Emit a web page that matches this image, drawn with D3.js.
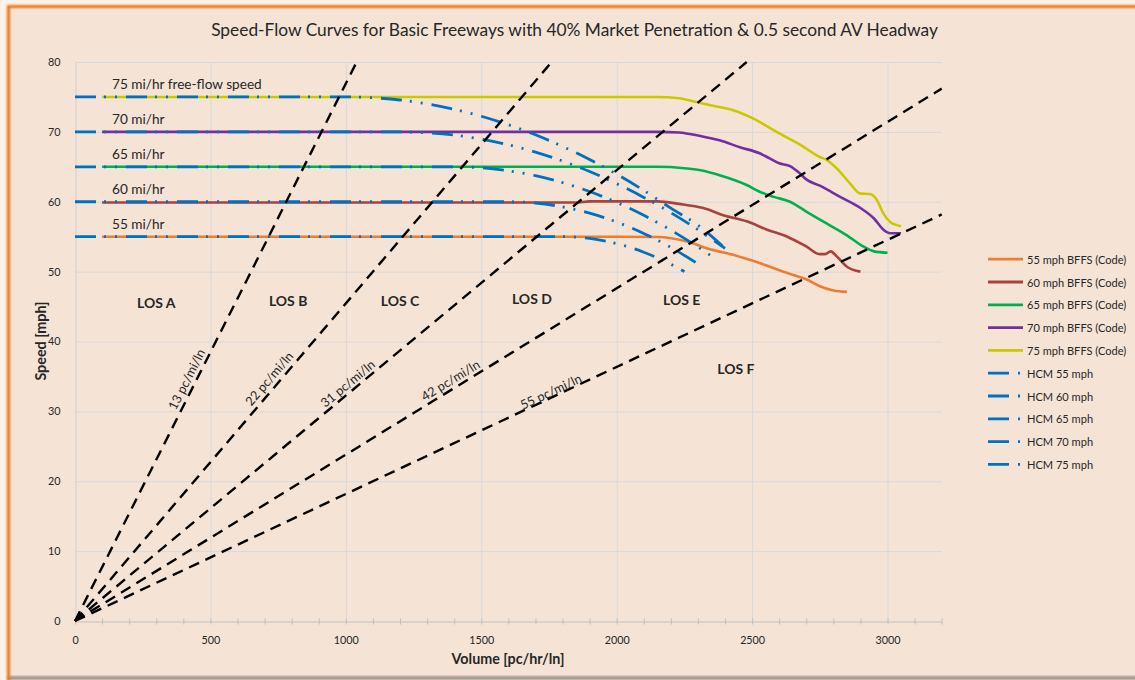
<!DOCTYPE html>
<html>
<head>
<meta charset="utf-8">
<script src="https://cdn.jsdelivr.net/npm/d3@7"></script>
<style>
  body { margin: 0; background: #fcf2ea; }
  svg { display: block; }
  text { font-family: Lato, "Open Sans", "DejaVu Sans", sans-serif; fill: #262626; }
</style>
</head>
<body>
<svg id="chart" width="1135" height="680"></svg>
<script>
// ---- Data: volume [pc/hr/ln], speed [mph] ----
const bffs55 = [[100,55],[2000,55],[2150,54.95],[2260,54.3],[2345,53.2],[2430,52.4],[2530,51.2],[2630,49.8],[2700,48.9],[2750,47.9],[2800,47.3],[2850,47.1]];
const bffs60 = [[100,59.9],[1850,59.9],[1900,60.05],[2150,60.05],[2230,59.7],[2320,59.1],[2400,58.0],[2480,57.2],[2555,56.0],[2630,55.0],[2700,53.6],[2750,52.5],[2770,52.5],[2790,52.9],[2812,52.2],[2850,50.7],[2900,50.0]];
const bffs65 = [[100,65],[2150,65],[2250,64.8],[2310,64.5],[2380,63.8],[2480,62.4],[2530,61.4],[2580,60.7],[2640,60.0],[2700,58.6],[2775,56.9],[2850,55.2],[2910,53.6],[2950,52.9],[3000,52.7]];
const bffs70 = [[100,70],[2150,70],[2230,69.9],[2310,69.4],[2380,68.8],[2455,67.8],[2530,66.9],[2565,66.2],[2600,65.5],[2640,65.1],[2675,64.1],[2700,63.2],[2750,62.3],[2825,60.7],[2900,59.1],[2950,57.6],[2985,56.0],[3010,55.5],[3050,55.5]];
const bffs75 = [[100,75],[2150,75],[2230,74.8],[2290,74.3],[2360,73.7],[2430,73.1],[2505,71.9],[2590,70.0],[2680,68.1],[2750,66.4],[2775,66.0],[2812,64.8],[2862,62.6],[2898,61.2],[2935,61.1],[2960,60.3],[2985,58.3],[3010,57.1],[3050,56.5]];

const hcm55 = [[0,55],[1800,55],[1900,54.75],[2000,54.01],[2100,52.78],[2200,51.05],[2250,50.0]];
const hcm60 = [[0,60],[1600,60],[1700,59.82],[1800,59.27],[1900,58.37],[2000,57.10],[2100,55.46],[2200,53.47],[2300,51.11]];
const hcm65 = [[0,65],[1400,65],[1500,64.86],[1600,64.43],[1700,63.73],[1800,62.73],[1900,61.46],[2000,59.90],[2100,58.06],[2200,55.94],[2300,53.53],[2350,52.22]];
const hcm70 = [[0,70],[1200,70],[1300,69.88],[1400,69.54],[1500,68.96],[1600,68.15],[1700,67.11],[1800,65.83],[1900,64.33],[2000,62.59],[2100,60.62],[2200,58.43],[2300,56.0],[2400,53.33]];
const hcm75 = [[0,75],[1000,75],[1100,74.89],[1200,74.56],[1300,74.01],[1400,73.23],[1500,72.24],[1600,71.02],[1700,69.58],[1800,67.92],[1900,66.04],[2000,63.94],[2100,61.62],[2200,59.08],[2300,56.65],[2400,53.33]];

const bffsNames = ["55 mph BFFS (Code)","60 mph BFFS (Code)","65 mph BFFS (Code)","70 mph BFFS (Code)","75 mph BFFS (Code)"];
const hcmNames = ["HCM 55 mph","HCM 60 mph","HCM 65 mph","HCM 70 mph","HCM 75 mph"];
const speedLabels = ["55 mi/hr","60 mi/hr","65 mi/hr","70 mi/hr","75 mi/hr free-flow speed"];
const freeFlowSpeeds = [55, 60, 65, 70, 75];
const densities = [13, 22, 31, 42, 55];            // pc/mi/ln boundaries
const losNames = ["LOS A","LOS B","LOS C","LOS D","LOS E","LOS F"];
const xTicks = [0, 500, 1000, 1500, 2000, 2500, 3000];
const yTicks = [0, 10, 20, 30, 40, 50, 60, 70, 80];

// ---- Styling / layout ----
const colors = ["#ed7d31", "#a8423e", "#00b050", "#7030a0", "#c9c900"];
const hcmColor = "#0070c0";
const hcmDash = "21,8,2,9,2,9";
const losPos = [[300,45.6],[787,45.9],[1200,45.8],[1687,46.2],[2240,46.0],[2440,36.1]];
const densLabelAt = [34.0, 33.8, 33.1, 33.4, 32.1];
const densLabelOff = [9.5, 10, 8.5, 9, 6];

const svg = d3.select("#chart");
const x = d3.scaleLinear().domain([0, 3200]).range([75, 941.7]);
const y = d3.scaleLinear().domain([0, 80]).range([621, 62]);

// frame
const defs = svg.append("defs");
defs.append("filter").attr("id", "soft").attr("x", "-5%").attr("y", "-5%").attr("width", "110%").attr("height", "110%")
  .append("feGaussianBlur").attr("stdDeviation", 0.9);
svg.append("rect").attr("x", 8).attr("y", 6).attr("width", 1140).attr("height", 671).attr("fill", "#f5e4d6");
svg.append("rect").attr("x", 8).attr("y", 676).attr("width", 1140).attr("height", 4).attr("fill", "#a3978d").attr("filter", "url(#soft)");
svg.append("path").attr("d", "M8.5,681 L8.5,6.5 L1140,6.5").attr("fill", "none")
  .attr("stroke", "#e8761e").attr("stroke-width", 3.2).attr("filter", "url(#soft)");

// fit a font size so a sample string spans a target width
function fitSize(sample, weight, target) {
  const t = svg.append("text").attr("font-size", 20).attr("font-weight", weight).text(sample);
  const w = t.node().getComputedTextLength();
  t.remove();
  return 20 * target / w;
}

// title
const titleText = "Speed-Flow Curves for Basic Freeways with 40% Market Penetration & 0.5 second AV Headway";
svg.append("text").attr("x", 574.5).attr("y", 36).attr("text-anchor", "middle")
  .attr("font-size", fitSize(titleText, 400, 727)).attr("fill", "#333").text(titleText);

// gridlines
const grid = svg.append("g").attr("stroke", "#d8d7dc").attr("stroke-width", 1);
grid.selectAll(".h").data(yTicks.filter(d => d > 0)).join("line")
  .attr("x1", x(0)).attr("x2", x(3200)).attr("y1", d => y(d) + 0.5).attr("y2", d => y(d) + 0.5);
grid.selectAll(".v").data(xTicks.filter(d => d > 0)).join("line")
  .attr("y1", y(0)).attr("y2", y(80)).attr("x1", d => x(d) + 0.5).attr("x2", d => x(d) + 0.5);

// axes
const tickFs = fitSize("1000", 400, 25);
const xAxis = svg.append("g").attr("transform", `translate(0,${y(0) + 0.5})`)
  .call(d3.axisBottom(x).tickValues(d3.range(0, 3201, 100))
    .tickFormat(d => d % 500 === 0 && d <= 3000 ? d : "").tickSizeInner(3).tickSizeOuter(0));
xAxis.selectAll(".tick line").attr("y1", -3).attr("y2", 3).attr("stroke", "#bfbfbf");
xAxis.select(".domain").attr("stroke", "#bfbfbf");
xAxis.selectAll(".tick text").attr("y", 22).attr("dy", 0).attr("font-size", tickFs)
  .attr("font-family", null).style("fill", "#262626");

const yAxis = svg.append("g").attr("transform", `translate(${x(0) + 0.5},0)`)
  .call(d3.axisLeft(y).tickValues(yTicks).tickSize(0).tickPadding(15));
yAxis.select(".domain").attr("stroke", "#d0d0d4");
yAxis.selectAll(".tick text").attr("font-size", tickFs).attr("font-family", null).style("fill", "#262626");

// axis titles
const axFs = fitSize("Volume [pc/hr/ln]", 700, 113);
svg.append("text").attr("x", 508).attr("y", 663.5).attr("text-anchor", "middle")
  .attr("font-weight", 700).attr("font-size", axFs).text("Volume [pc/hr/ln]");
svg.append("text").attr("transform", "translate(40,341) rotate(-90)").attr("text-anchor", "middle")
  .attr("dominant-baseline", "central").attr("font-weight", 700).attr("font-size", axFs).text("Speed [mph]");

const line = d3.line().x(d => x(d[0])).y(d => y(d[1])).curve(d3.curveMonotoneX);

// BFFS curves
const bffs = [bffs55, bffs60, bffs65, bffs70, bffs75];
svg.append("g").selectAll("path").data(bffs).join("path")
  .attr("d", line).attr("fill", "none").attr("stroke", (d, i) => colors[i]).attr("stroke-width", 2.6);

// HCM curves
const hcm = [hcm55, hcm60, hcm65, hcm70, hcm75];
svg.append("g").selectAll("path").data(hcm).join("path")
  .attr("d", line).attr("fill", "none").attr("stroke", hcmColor).attr("stroke-width", 2.8)
  .attr("stroke-dasharray", hcmDash);

// density boundaries
const dens = svg.append("g");
densities.forEach((k, i) => {
  const vEnd = Math.min(3200, 80 * k);
  const pts = [[0, 0], [vEnd, vEnd / k]];
  dens.append("path").attr("d", d3.line().x(d => x(d[0])).y(d => y(d[1]))(pts))
    .attr("fill", "none").attr("stroke", "#000").attr("stroke-width", 2.4).attr("stroke-dasharray", "11,7");
  const dx = x(vEnd) - x(0), dy = y(vEnd / k) - y(0);
  const len = Math.hypot(dx, dy), ux = dx / len, uy = dy / len;
  const s = densLabelAt[i];
  const fx = x(k * s) + uy * densLabelOff[i], fy = y(s) - ux * densLabelOff[i];
  const ang = Math.atan2(uy, ux) * 180 / Math.PI;
  dens.append("text").attr("transform", `translate(${fx},${fy}) rotate(${ang})`)
    .attr("text-anchor", "middle").attr("dominant-baseline", "central")
    .attr("font-size", fitSize("13 pc/mi/ln", 400, 66)).text(`${k} pc/mi/ln`);
});

// free-flow speed labels
const spFs = fitSize(speedLabels[4], 400, 150);
svg.append("g").selectAll("text").data(speedLabels).join("text")
  .attr("x", 112).attr("y", (d, i) => y(freeFlowSpeeds[i]) - 13).attr("dominant-baseline", "central")
  .attr("font-size", spFs).text(d => d);

// LOS labels
const losFs = fitSize("LOS A", 700, 38.5);
svg.append("g").selectAll("text").data(losNames).join("text")
  .attr("x", (d, i) => x(losPos[i][0])).attr("y", (d, i) => y(losPos[i][1]))
  .attr("text-anchor", "middle").attr("dominant-baseline", "central")
  .attr("font-weight", 700).attr("font-size", losFs).text(d => d);

// legend
const legFs = fitSize(bffsNames[2], 400, 99.4);
const leg = svg.append("g");
const allNames = bffsNames.concat(hcmNames);
allNames.forEach((name, i) => {
  const ly = 259.2 + i * 22.8;
  if (i < 5) {
    leg.append("line").attr("x1", 988).attr("x2", 1023).attr("y1", ly).attr("y2", ly)
      .attr("stroke", colors[i]).attr("stroke-width", 2.8);
  } else {
    leg.append("line").attr("x1", 988).attr("x2", 1023).attr("y1", ly).attr("y2", ly)
      .attr("stroke", hcmColor).attr("stroke-width", 2.8).attr("stroke-dasharray", "21,9,2,40");
  }
  leg.append("text").attr("x", 1027).attr("y", ly).attr("dominant-baseline", "central")
    .attr("font-size", legFs).text(name);
});
</script>
</body>
</html>
